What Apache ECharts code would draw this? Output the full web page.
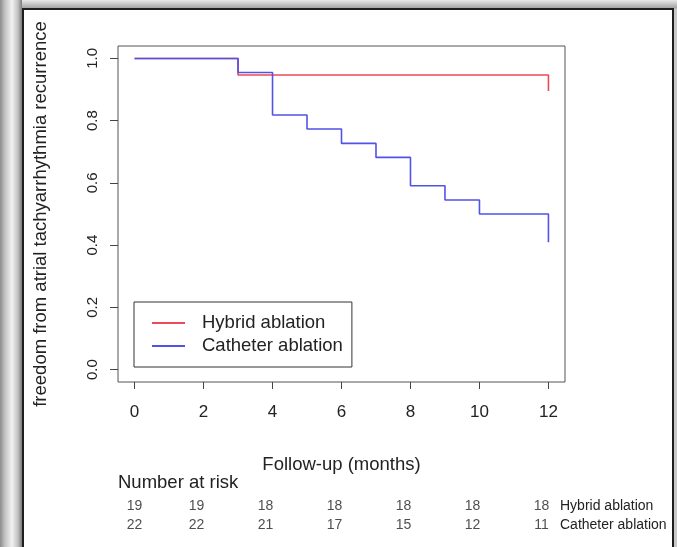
<!DOCTYPE html>
<html><head><meta charset="utf-8">
<script src="https://cdn.jsdelivr.net/npm/echarts@6/dist/echarts.min.js"></script>
<style>
html,body{margin:0;padding:0;}
#wrap{position:relative;width:677px;height:547px;overflow:hidden;background:linear-gradient(to bottom,#e8e8e8 0px,#a4a4a4 8px,#c8c8c8 9px);}
#leftband{position:absolute;left:0;top:0;width:22px;height:547px;background:linear-gradient(to right,#8c8c8c 0px,#c4c4c4 5px,#f2f2f2 12px,#c0c0c0 18px,#7a7a7a 22px);}
#panel{position:absolute;left:22px;top:8px;width:648px;height:560px;background:#fff;border:2px solid #1e1e1e;}
#chart{position:absolute;left:0;top:0;width:677px;height:547px;}
</style></head>
<body>
<div id="wrap"><div id="leftband"></div><div id="panel"></div><div id="chart"></div></div>
<script>
// ---- data ----
const hybridMonths = [0, 3, 12];
const hybridSurv = [1.0, 0.947, 0.895];
const catheterMonths = [0, 3, 4, 5, 6, 7, 8, 9, 10, 12];
const catheterSurv = [1.0, 0.955, 0.818, 0.773, 0.727, 0.682, 0.591, 0.545, 0.500, 0.409];
const groupNames = ['Hybrid ablation', 'Catheter ablation'];
const xTicks = [0, 2, 4, 6, 8, 10, 12];
const yTicks = [0, 0.2, 0.4, 0.6, 0.8, 1.0];
const riskTimes = [0, 2, 4, 6, 8, 10, 12];
const hybridRisk = [19, 19, 18, 18, 18, 18, 18];
const catheterRisk = [22, 22, 21, 17, 15, 12, 11];

const FONT = '"Liberation Sans", Arial, Helvetica, sans-serif';
const TXT = '#222';

function pairs(xs, ys) { return xs.map((x, i) => [x, ys[i]]); }
function riskData(row, vals) {
  return riskTimes.map((t, i) => ({
    value: [t, row, vals[i]],
    label: { offset: [i === 0 ? 0 : -7, 0] }
  }));
}

const chart = echarts.init(document.getElementById('chart'), null, { renderer: 'canvas' });
chart.setOption({
  animation: false,
  backgroundColor: 'transparent',
  textStyle: { fontFamily: FONT },
  title: {
    text: 'Number at risk', left: 118, top: 473, padding: 0,
    textStyle: { fontFamily: FONT, fontSize: 18.5, fontWeight: 'normal', color: TXT }
  },
  legend: {
    data: groupNames, orient: 'vertical', left: 134, top: 302,
    padding: [11, 9, 11, 18], itemGap: 3, itemWidth: 33, itemHeight: 2,
    icon: 'rect', selectedMode: false,
    borderColor: '#333', borderWidth: 1, backgroundColor: '#fff',
    textStyle: { fontFamily: FONT, fontSize: 18.5, color: TXT, lineHeight: 20, padding: [0, 0, 0, 12] }
  },
  grid: [
    { left: 118, top: 46, width: 447, height: 336, show: true, borderColor: '#555', borderWidth: 1, backgroundColor: 'transparent' },
    { left: 118, top: 497, width: 447, height: 38, show: false }
  ],
  xAxis: [
    {
      type: 'value', gridIndex: 0, min: -0.48, max: 12.48,
      name: 'Follow-up (months)', nameLocation: 'middle', nameGap: 73,
      nameTextStyle: { fontFamily: FONT, fontSize: 18.5, color: TXT },
      splitLine: { show: false }, axisLine: { show: false, onZero: false },
      axisTick: { show: true, customValues: xTicks, length: 7, lineStyle: { color: '#444' } },
      axisLabel: { customValues: xTicks, fontSize: 17, color: TXT, margin: 22, fontFamily: FONT }
    },
    { type: 'value', gridIndex: 1, min: -0.48, max: 12.48, show: false }
  ],
  yAxis: [
    {
      type: 'value', gridIndex: 0, min: -0.04, max: 1.04,
      name: 'freedom from atrial tachyarrhythmia recurrence', nameLocation: 'middle', nameGap: 68, nameRotate: 90,
      nameTextStyle: { fontFamily: FONT, fontSize: 18.5, color: TXT },
      splitLine: { show: false }, axisLine: { show: false, onZero: false },
      axisTick: { show: true, customValues: yTicks, length: 8, lineStyle: { color: '#444' } },
      axisLabel: { customValues: yTicks, rotate: 90, fontSize: 15, color: TXT, margin: 18, fontFamily: FONT,
        formatter: v => Number(v).toFixed(1) }
    },
    {
      type: 'category', gridIndex: 1, data: groupNames, inverse: true, position: 'right',
      axisLine: { show: false, onZero: false }, axisTick: { show: false }, splitLine: { show: false },
      axisLabel: { align: 'left', margin: -5, fontSize: 14, color: TXT, fontFamily: FONT }
    }
  ],
  series: [
    {
      name: groupNames[0], type: 'line', step: 'end', xAxisIndex: 0, yAxisIndex: 0,
      data: pairs(hybridMonths, hybridSurv), showSymbol: false, symbol: 'none',
      itemStyle: { color: '#ec4a55' }, lineStyle: { color: '#ec4a55', width: 1.6 }, z: 2
    },
    {
      name: groupNames[1], type: 'line', step: 'end', xAxisIndex: 0, yAxisIndex: 0,
      data: pairs(catheterMonths, catheterSurv), showSymbol: false, symbol: 'none',
      itemStyle: { color: '#5252e6' }, lineStyle: { color: '#5252e6', width: 1.6 }, z: 3
    },
    {
      type: 'scatter', xAxisIndex: 1, yAxisIndex: 1, symbolSize: 1,
      itemStyle: { color: 'transparent' }, silent: true,
      data: riskData(groupNames[0], hybridRisk).concat(riskData(groupNames[1], catheterRisk)),
      label: { show: true, position: 'inside', fontSize: 14, color: TXT, fontFamily: FONT,
        formatter: p => String(p.value[2]) }
    }
  ]
});
</script>
</body></html>
